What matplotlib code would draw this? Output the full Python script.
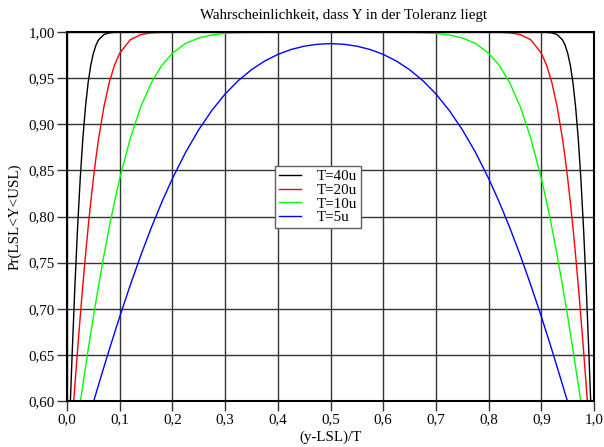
import matplotlib
matplotlib.use('Agg')
import matplotlib.pyplot as plt
from matplotlib.ticker import MultipleLocator, FuncFormatter

plt.rcParams['font.family'] = ['Liberation Serif', 'DejaVu Serif']

# x = (y-LSL)/T
pos = [0.0, 0.005, 0.01, 0.015, 0.02, 0.025, 0.03, 0.035, 0.04, 0.045, 0.05, 0.055,
       0.06, 0.07, 0.08, 0.09, 0.10, 0.12, 0.14, 0.16, 0.18, 0.20, 0.225, 0.25,
       0.275, 0.30, 0.325, 0.35, 0.375, 0.40, 0.425, 0.45, 0.475, 0.50,
       0.525, 0.55, 0.575, 0.60, 0.625, 0.65, 0.675, 0.70, 0.725, 0.75, 0.775,
       0.80, 0.82, 0.84, 0.86, 0.88, 0.90, 0.91, 0.92, 0.93, 0.94, 0.945, 0.95,
       0.955, 0.96, 0.965, 0.97, 0.975, 0.98, 0.985, 0.99, 0.995, 1.0]

pr_40u = [0.5000, 0.5793, 0.6554, 0.7257, 0.7881, 0.8413, 0.8849, 0.9192, 0.9452, 0.9641,
          0.9772, 0.9861, 0.9918, 0.9974, 0.9993, 0.9998, 1.0, 1.0, 1.0, 1.0, 1.0, 1.0,
          1.0, 1.0, 1.0, 1.0, 1.0, 1.0, 1.0, 1.0, 1.0, 1.0, 1.0, 1.0,
          1.0, 1.0, 1.0, 1.0, 1.0, 1.0, 1.0, 1.0, 1.0, 1.0, 1.0, 1.0, 1.0, 1.0, 1.0,
          1.0, 1.0, 0.9998, 0.9993, 0.9974, 0.9918, 0.9861, 0.9772, 0.9641, 0.9452,
          0.9192, 0.8849, 0.8413, 0.7881, 0.7257, 0.6554, 0.5793, 0.5000]

pr_20u = [0.5000, 0.5398, 0.5793, 0.6179, 0.6554, 0.6915, 0.7257, 0.7580, 0.7881, 0.8159,
          0.8413, 0.8643, 0.8849, 0.9192, 0.9452, 0.9641, 0.9772, 0.9918, 0.9974, 0.9993,
          0.9998, 1.0, 1.0, 1.0, 1.0, 1.0, 1.0, 1.0, 1.0, 1.0, 1.0, 1.0, 1.0, 1.0,
          1.0, 1.0, 1.0, 1.0, 1.0, 1.0, 1.0, 1.0, 1.0, 1.0, 1.0, 1.0, 0.9998, 0.9993,
          0.9974, 0.9918, 0.9772, 0.9641, 0.9452, 0.9192, 0.8849, 0.8643, 0.8413, 0.8159,
          0.7881, 0.7580, 0.7257, 0.6915, 0.6554, 0.6179, 0.5793, 0.5398, 0.5000]

pr_10u = [0.5000, 0.5199, 0.5398, 0.5596, 0.5793, 0.5987, 0.6179, 0.6368, 0.6554, 0.6736,
          0.6915, 0.7088, 0.7257, 0.7580, 0.7881, 0.8159, 0.8413, 0.8849, 0.9192, 0.9452,
          0.9641, 0.9772, 0.9878, 0.9938, 0.9970, 0.9987, 0.9994, 0.9998, 0.9999, 1.0,
          1.0, 1.0, 1.0, 1.0,
          1.0, 1.0, 1.0, 1.0, 0.9999, 0.9998, 0.9994, 0.9987, 0.9970, 0.9938, 0.9878,
          0.9772, 0.9641, 0.9452, 0.9192, 0.8849, 0.8413, 0.8159, 0.7881, 0.7580, 0.7257,
          0.7088, 0.6915, 0.6736, 0.6554, 0.6368, 0.6179, 0.5987, 0.5793, 0.5596, 0.5398,
          0.5199, 0.5000]

pr_5u = [0.5000, 0.5100, 0.5199, 0.5299, 0.5398, 0.5497, 0.5596, 0.5695, 0.5793, 0.5890,
         0.5987, 0.6083, 0.6179, 0.6368, 0.6554, 0.6736, 0.6915, 0.7257, 0.7580, 0.7881,
         0.8159, 0.8413, 0.8697, 0.8943, 0.9153, 0.9330, 0.9475, 0.9593, 0.9687, 0.9759,
         0.9812, 0.9848, 0.9869, 0.9876,
         0.9869, 0.9848, 0.9812, 0.9759, 0.9687, 0.9593, 0.9475, 0.9330, 0.9153, 0.8943,
         0.8697, 0.8413, 0.8159, 0.7881, 0.7580, 0.7257, 0.6915, 0.6736, 0.6554, 0.6368,
         0.6179, 0.6083, 0.5987, 0.5890, 0.5793, 0.5695, 0.5596, 0.5497, 0.5398, 0.5299,
         0.5199, 0.5100, 0.5000]

labels = ['T=40u', 'T=20u', 'T=10u', 'T=5u']
colors = ['#000000', '#ff0000', '#00ff00', '#0000ff']

fig = plt.figure(figsize=(6.04, 4.47), dpi=100)
ax = fig.add_axes([0.111, 0.103, 0.8725, 0.825])

for y, lab, col in zip([pr_40u, pr_20u, pr_10u, pr_5u], labels, colors):
    ax.plot(pos, y, color=col, lw=1.0, label=lab)

ax.set_xlim(0, 1)
ax.set_ylim(0.6, 1.0)
ax.xaxis.set_major_locator(MultipleLocator(0.1))
ax.yaxis.set_major_locator(MultipleLocator(0.05))
ax.xaxis.set_major_formatter(FuncFormatter(lambda v, p: f'{v:.1f}'.replace('.', ',')))
ax.yaxis.set_major_formatter(FuncFormatter(lambda v, p: f'{v:.2f}'.replace('.', ',')))
ax.grid(True, color='#333333', lw=1.0)
ax.set_axisbelow(True)
ax.tick_params(direction='out', length=7, width=1.0, labelsize=10.8, pad=2, color='#333333')
for s in ax.spines.values():
    s.set_linewidth(1.5)

ax.set_xlabel('(y-LSL)/T', fontsize=10.8, labelpad=3)
ax.set_ylabel('Pr(LSL<Y<USL)', fontsize=10.8, labelpad=5)
fig.text(0.568, 0.965, 'Wahrscheinlichkeit, dass Y in der Toleranz liegt',
         ha='center', va='center', fontsize=10.8)

leg = ax.legend(loc='center', bbox_to_anchor=(0.476, 0.553), fontsize=10.8,
                handlelength=1.5, handletextpad=1.0, borderpad=0.25, labelspacing=0.02,
                fancybox=False, framealpha=1, edgecolor='#606060')
leg.get_frame().set_linewidth(1.0)

fig.savefig('out.png', dpi=100)
